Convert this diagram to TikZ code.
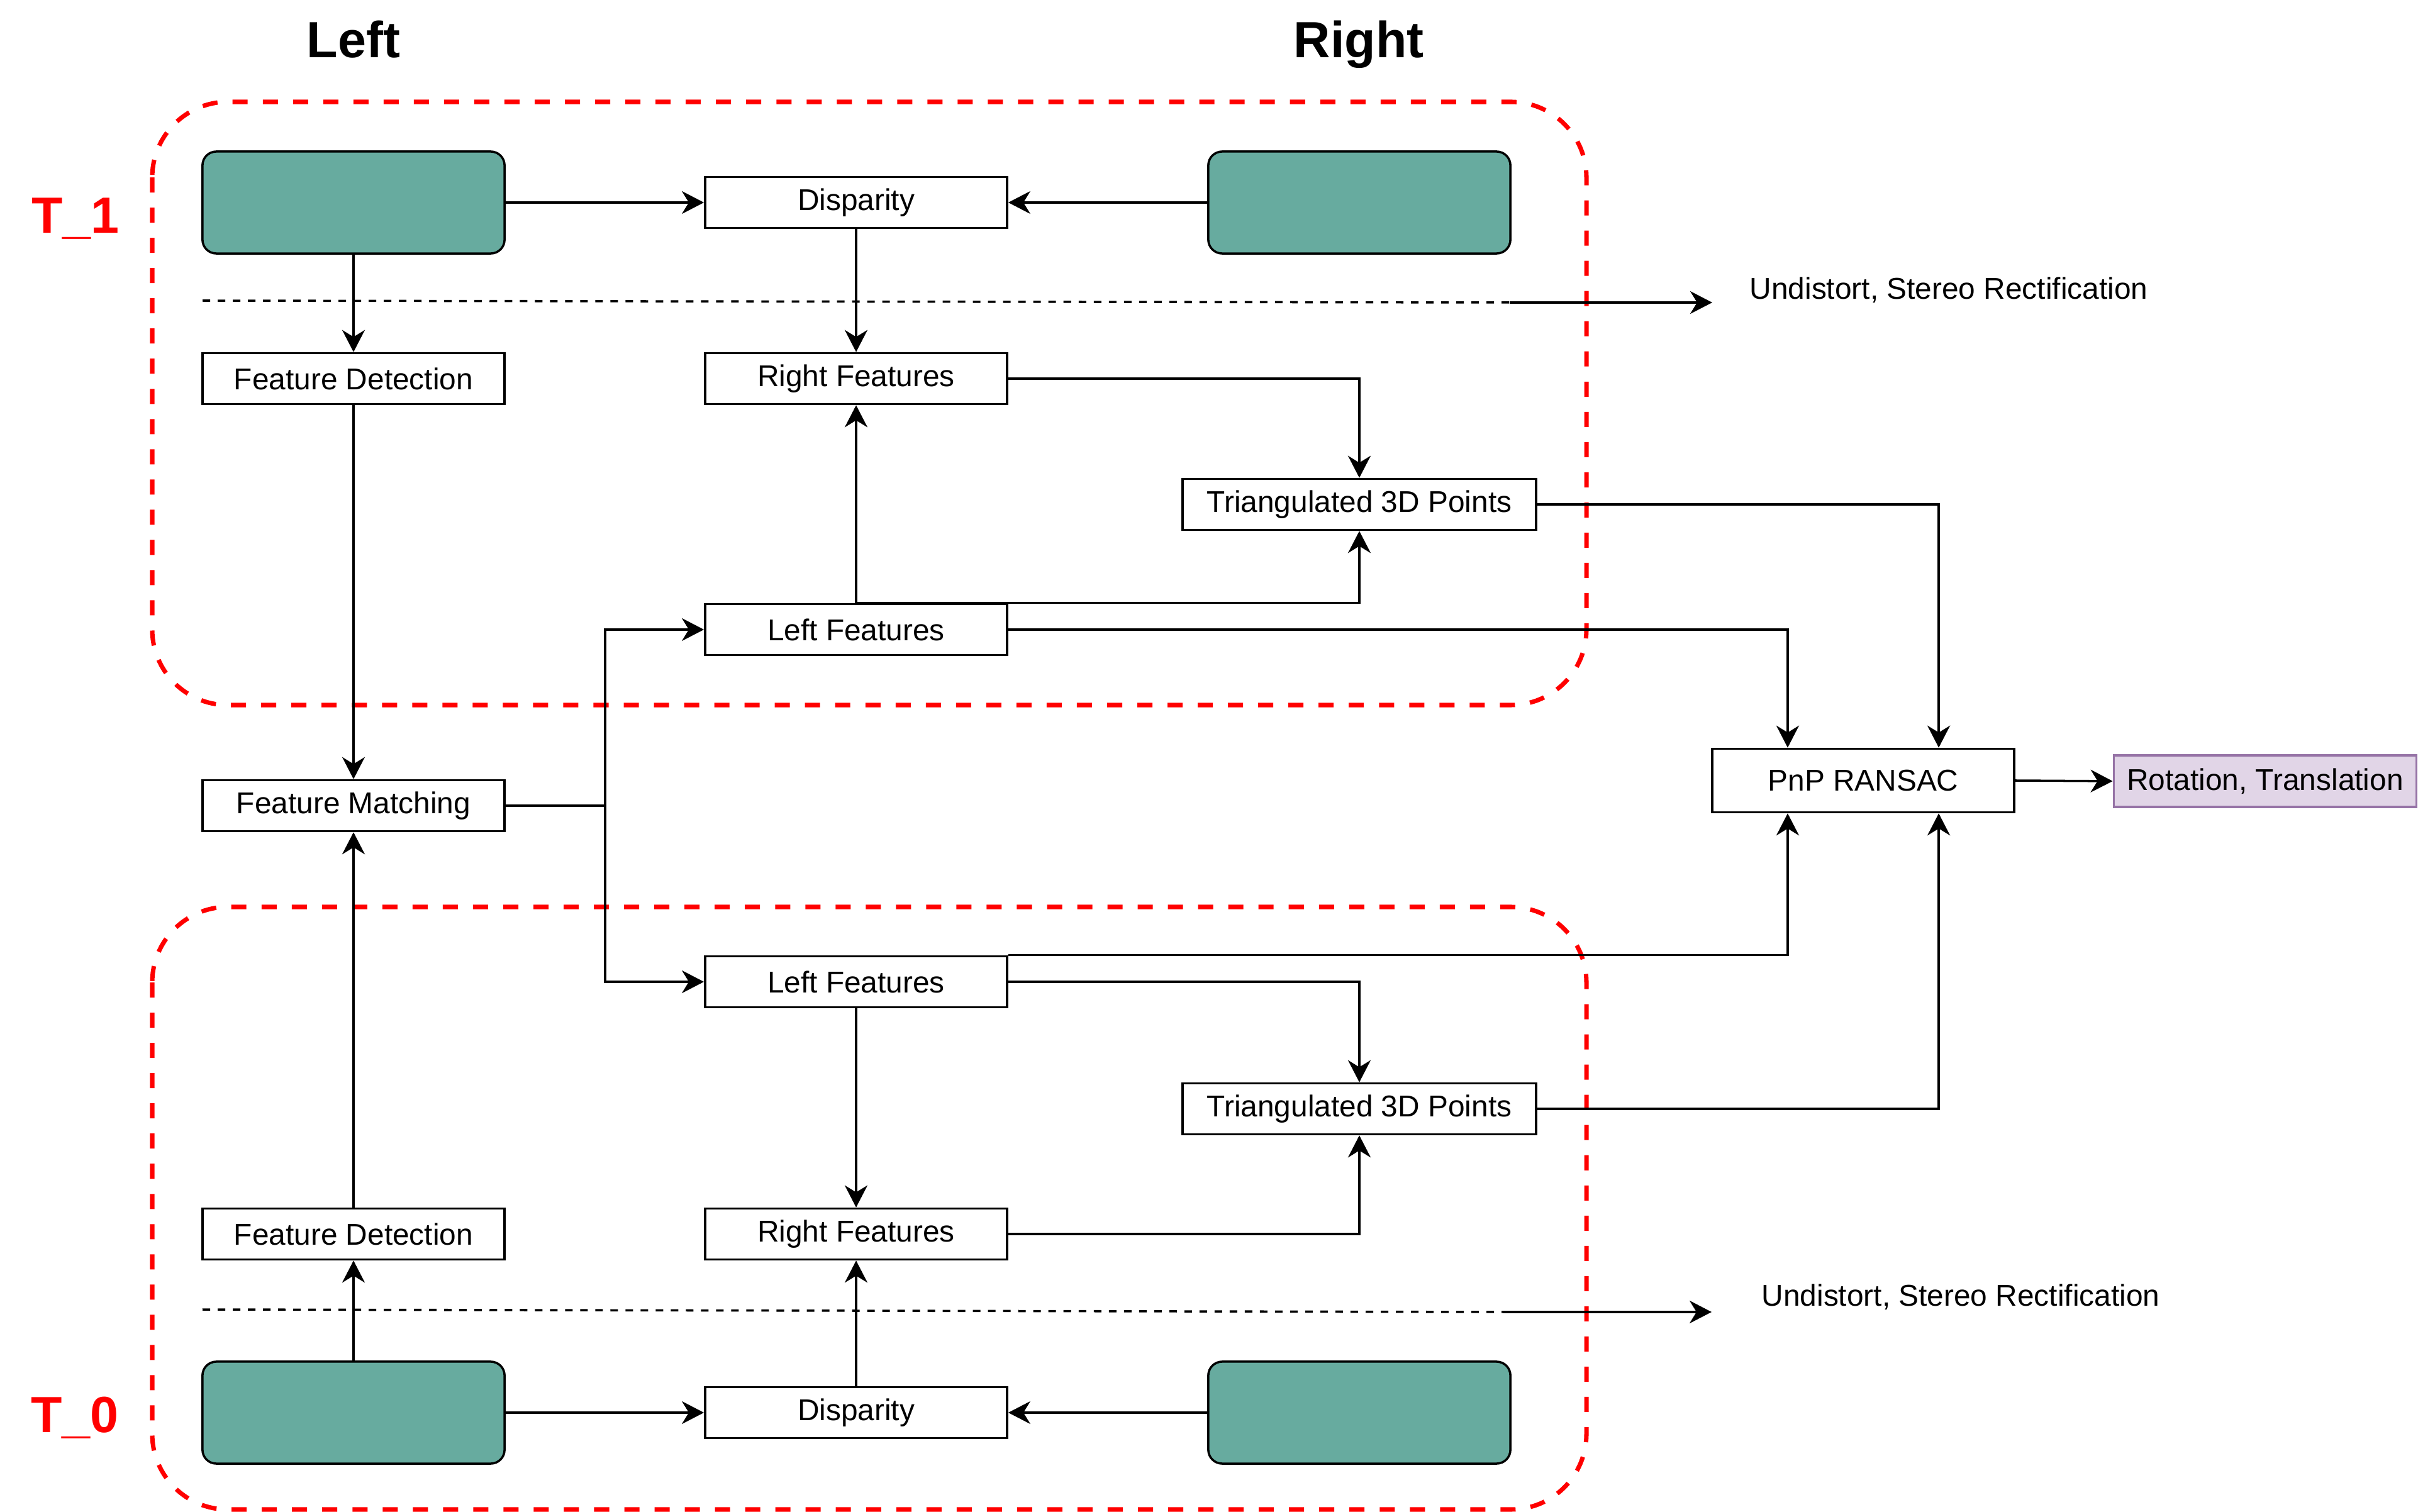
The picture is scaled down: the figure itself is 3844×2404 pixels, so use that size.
\documentclass[tikz,border=0pt]{standalone}
\usepackage{fontspec}
\setmainfont{Liberation Sans}
\usetikzlibrary{arrows.meta}
\definecolor{camfill}{HTML}{67AB9F}
\definecolor{outfill}{HTML}{E1D5E7}
\definecolor{outline}{HTML}{9673A6}
\begin{document}
\begin{tikzpicture}[x=0.01cm,y=-0.01cm,
  every node/.style={font=\fontsize{13.6}{16}\selectfont},
  proc/.style={draw,line width=1pt,fill=white,rectangle,inner sep=0pt,minimum width=4.8cm,minimum height=0.81cm},
  cam/.style={draw,line width=1pt,fill=camfill,rectangle,rounded corners=0.22cm,inner sep=0pt,minimum width=4.8cm,minimum height=1.62cm},
  result/.style={draw=outline,line width=1pt,fill=outfill,rectangle,inner sep=0pt,minimum width=4.81cm,minimum height=0.82cm},
  frame/.style={draw=red,line width=2pt,dash pattern=on 0.24cm off 0.24cm,rounded corners=1.2cm},
  flow/.style={line width=1pt,-{Stealth[length=0.35cm,width=0.36cm,inset=0.11cm]}},
  link/.style={line width=1pt},
  guide/.style={line width=1pt,dash pattern=on 0.12cm off 0.12cm},
  heading/.style={font=\fontsize{23}{28}\selectfont\bfseries,anchor=base,inner sep=0pt},
  stamp/.style={text=red,font=\fontsize{23}{28}\selectfont\bfseries,anchor=base,inner sep=0pt},
  note/.style={anchor=base west,inner sep=0pt}
]
\useasboundingbox (0,0) rectangle (3844,2404);

% time-step frames
\draw[frame] (242,162) rectangle (2522,1121);
\draw[frame] (242,1442) rectangle (2522,2400);

% headings
\node[heading] (hl) at (562,92) {Left};
\node[heading] (hr) at (2160,92) {Right};
\node[stamp] (t1) at (120,371) {T\_1};
\node[stamp] (t0) at (119,2277) {T\_0};

% frame T_1
\node[cam] (camTL) at (562,322) {};
\node[cam] (camTR) at (2161,322) {};
\node[proc] (dispT) at (1361,322) {Disparity};
\node[proc] (fdT) at (562,602) {Feature Detection};
\node[proc] (rfT) at (1361,602) {Right Features};
\node[proc,minimum width=5.62cm] (triT) at (2161,802) {Triangulated 3D Points};
\node[proc] (lfT) at (1361,1001) {Left Features};

% shared stages
\node[proc] (fm) at (562,1281) {Feature Matching};
\node[proc,minimum height=1.01cm] (pnp) at (2962,1241) {PnP RANSAC};
\node[result] (rot) at (3601,1242) {Rotation, Translation};

% frame T_0
\node[proc] (lfB) at (1361,1561) {Left Features};
\node[proc,minimum width=5.62cm] (triB) at (2161,1763) {Triangulated 3D Points};
\node[proc] (fdB) at (562,1962) {Feature Detection};
\node[proc] (rfB) at (1361,1962) {Right Features};
\node[cam] (camBL) at (562,2246) {};
\node[cam] (camBR) at (2161,2246) {};
\node[proc] (dispB) at (1361,2246) {Disparity};

% rectification guides
\coordinate (gTa) at (322,478);
\coordinate (gTb) at (2400,481);
\coordinate (gTc) at (2722,481);
\coordinate (gBa) at (322,2082);
\coordinate (gBb) at (2397,2086);
\coordinate (gBc) at (2721,2086);
\draw[guide] (gTa) -- (gTb);
\draw[flow] (gTb) -- (gTc);
\draw[guide] (gBa) -- (gBb);
\draw[flow] (gBb) -- (gBc);
\node[note] (nT) at (2781,476) {Undistort, Stereo Rectification};
\node[note] (nB) at (2800,2076) {Undistort, Stereo Rectification};

% connectors, frame T_1
\draw[flow] (camTL.east) -- (dispT.west);
\draw[flow] (camTR.west) -- (dispT.east);
\draw[flow] (camTL.south) -- (fdT.north);
\draw[flow] (dispT.south) -- (rfT.north);
\draw[flow] (rfT.east) -| (triT.north);
\draw[flow] (lfT.north) -- (rfT.south);
\draw[flow] (lfT.north) -| (triT.south);
\draw[flow] (lfT.east) -| ([xshift=-1.2cm]pnp.north);
\draw[flow] (triT.east) -| ([xshift=1.2cm]pnp.north);

% matching and pose
\draw[flow] (fdT.south) -- (fm.north);
\coordinate (fork) at (962,1281);
\draw[link] (fm.east) -- (fork);
\draw[flow] (fork) |- (lfT.west);
\draw[flow] (fork) |- (lfB.west);
\draw[flow] (pnp.east) -- (rot.west);

% connectors, frame T_0
\draw[flow] (fdB.north) -- (fm.south);
\draw[flow] (camBL.north) -- (fdB.south);
\draw[flow] (camBL.east) -- (dispB.west);
\draw[flow] (camBR.west) -- (dispB.east);
\draw[flow] (dispB.north) -- (rfB.south);
\draw[flow] (lfB.south) -- (rfB.north);
\draw[flow] (lfB.east) -| (triB.north);
\draw[flow] (lfB.north east) -| ([xshift=-1.2cm]pnp.south);
\draw[flow] (rfB.east) -| (triB.south);
\draw[flow] (triB.east) -| ([xshift=1.2cm]pnp.south);
\end{tikzpicture}
\end{document}
